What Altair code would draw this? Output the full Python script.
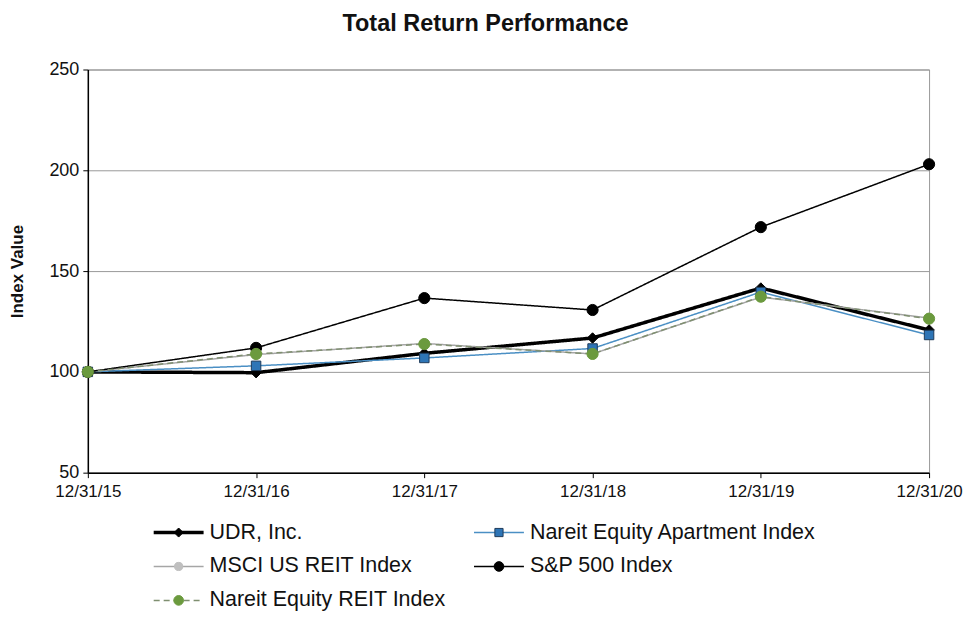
import altair as alt
import pandas as pd

dates = ["12/31/15", "12/31/16", "12/31/17", "12/31/18", "12/31/19", "12/31/20"]
series_names = ["UDR, Inc.", "Nareit Equity Apartment Index", "MSCI US REIT Index",
                "S&P 500 Index", "Nareit Equity REIT Index"]
udr = [100, 99.6, 109.2, 116.8, 141.6, 120.8]
nareit_apt = [100, 103.0, 106.9, 111.6, 139.6, 118.3]
msci_reit = [100, 108.6, 114.1, 108.9, 137.1, 126.7]
sp500 = [100, 111.9, 136.6, 130.7, 171.8, 203.0]
nareit_reit = [100, 108.9, 113.8, 108.9, 137.3, 126.4]
values = [udr, nareit_apt, msci_reit, sp500, nareit_reit]

rows = []
for name, vals in zip(series_names, values):
    for d, v in zip(dates, vals):
        rows.append({"series": name, "date": d, "value": v})
df = pd.DataFrame(rows)

styles = {
    "UDR, Inc.": dict(line="#000000", lw=3.5, dash=[1, 0], shape="diamond", fill="#000000",
                      stroke="#000000", size=110),
    "Nareit Equity Apartment Index": dict(line="#4A8FC4", lw=1.5, dash=[1, 0], shape="square",
                                          fill="#2E75B6", stroke="#1F3B5A", size=90),
    "MSCI US REIT Index": dict(line="#A6A6A6", lw=1.5, dash=[1, 0], shape="circle",
                               fill="#BFBFBF", stroke="#BFBFBF", size=90),
    "S&P 500 Index": dict(line="#000000", lw=1.5, dash=[1, 0], shape="circle", fill="#000000",
                          stroke="#000000", size=125),
    "Nareit Equity REIT Index": dict(line="#7F8F70", lw=1.5, dash=[6, 4], shape="circle",
                                     fill="#6B9A3E", stroke="#6B9A3E", size=125),
}

FONT = "Liberation Sans"
W, H = 843, 404

x_enc = alt.X("date:N", sort=dates,
              scale=alt.Scale(type="point", padding=0),
              axis=alt.Axis(title=None, labelAngle=0, labelFontSize=17, labelFont=FONT,
                            labelColor="#111", domainColor="#000", domainWidth=1.5,
                            tickColor="#000", tickSize=5, labelPadding=6, grid=False))
y_enc = alt.Y("value:Q", scale=alt.Scale(domain=[50, 250], nice=False, zero=False),
              axis=alt.Axis(title="Index Value", values=[50, 100, 150, 200, 250],
                            titleFontSize=17, titleFont=FONT, titleFontWeight="bold",
                            titleColor="#111", titlePadding=22,
                            labelFontSize=18, labelFont=FONT, labelColor="#111",
                            domainColor="#000", domainWidth=1.5, tickColor="#000",
                            tickSize=5, labelPadding=4,
                            grid=True, gridColor="#999999", gridWidth=1))

line_layers = []
point_layers = []
for name in series_names:
    s = styles[name]
    base = alt.Chart(df).transform_filter(alt.datum.series == name)
    line_layers.append(base.mark_line(color=s["line"], strokeWidth=s["lw"],
                                      strokeDash=s["dash"]).encode(x=x_enc, y=y_enc))
    point_layers.append(base.mark_point(shape=s["shape"], filled=True, fill=s["fill"],
                                        stroke=s["stroke"], strokeWidth=1, size=s["size"],
                                        opacity=1).encode(x=x_enc, y=y_enc))

main = alt.layer(*line_layers, *point_layers).properties(width=W, height=H)

# legend
leg_df = pd.DataFrame({"series": series_names,
                       "idx": list(range(len(series_names)))})
leg_base = alt.Chart(leg_df).transform_calculate(
    col="datum.idx % 2", row="floor(datum.idx / 2)"
).transform_calculate(
    x0="66 + datum.col * 321", x1="66 + datum.col * 321 + 50",
    xm="66 + datum.col * 321 + 25", xt="66 + datum.col * 321 + 56",
    yy="19 + datum.row * 34"
)
LW, LH = W, 100
lx = alt.Scale(domain=[0, LW], nice=False, zero=False)
ly = alt.Scale(domain=[0, LH], nice=False, zero=False, reverse=True)
leg_layers = []
for name in series_names:
    s = styles[name]
    b = leg_base.transform_filter(alt.datum.series == name)
    leg_layers.append(b.mark_rule(color=s["line"], strokeWidth=s["lw"],
                                  strokeDash=s["dash"]).encode(
        x=alt.X("x0:Q", scale=lx, axis=None), x2="x1:Q",
        y=alt.Y("yy:Q", scale=ly, axis=None)))
    leg_layers.append(b.mark_point(shape=s["shape"], filled=True, fill=s["fill"],
                                   stroke=s["stroke"], strokeWidth=1, size=s["size"] * 0.75,
                                   opacity=1).encode(
        x=alt.X("xm:Q", scale=lx, axis=None), y=alt.Y("yy:Q", scale=ly, axis=None)))
    leg_layers.append(b.mark_text(align="left", baseline="middle", font=FONT, fontSize=21.5,
                                  color="#111").encode(
        x=alt.X("xt:Q", scale=lx, axis=None), y=alt.Y("yy:Q", scale=ly, axis=None),
        text="series:N"))
legend = alt.layer(*leg_layers).properties(width=LW, height=LH,
                                           view=alt.ViewBackground(stroke=None))

chart = alt.vconcat(main, legend, spacing=13).properties(
    title=alt.Title("Total Return Performance", fontSize=23.5, font=FONT, fontWeight="bold",
                    color="#111", anchor="middle", offset=25),
    padding={"left": 0, "top": 3, "right": 0, "bottom": 0}
).configure_view(stroke="#999999")

chart.save("out.html", embed_options={"renderer": "svg", "actions": False})
